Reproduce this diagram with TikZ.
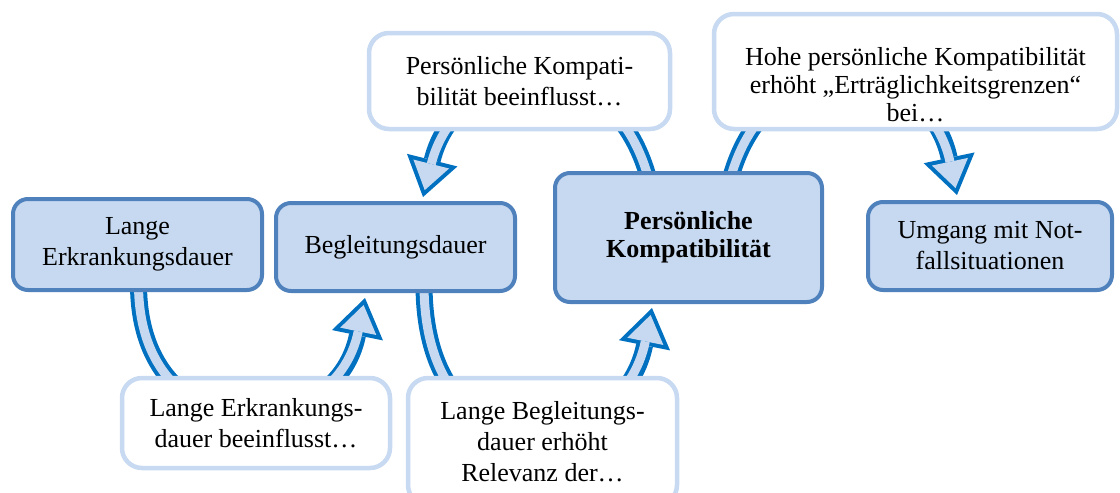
\documentclass[tikz,border=0pt]{standalone}
\usepackage{fontspec}
\setmainfont{Liberation Serif}
\usepackage{xcolor}
\usepackage{tikz}
\usetikzlibrary{arrows.meta, calc, backgrounds}

\definecolor{boxfill}{RGB}{198,217,240}
\definecolor{boxedge}{RGB}{79,129,189}
\definecolor{noteedge}{RGB}{200,218,241}
\definecolor{flowblue}{RGB}{0,112,192}

\begin{document}
\begin{tikzpicture}[
    x=0.5pt, y=-0.5pt,
    font=\fontsize{13pt}{15.5pt}\selectfont,
    box/.style={rectangle, rounded corners=7.5pt, draw=boxedge, line width=2pt, fill=boxfill, align=center, inner sep=0pt, outer sep=0pt},
    note/.style={rectangle, rounded corners=10pt, draw=noteedge, line width=2.25pt, fill=white, align=center, inner sep=0pt, outer sep=0pt},
    flowout/.style={flowblue, line width=8.5pt, -{Triangle[length=19pt, width=26pt, line width=0pt]}},
    flowin/.style={boxfill, line width=4.5pt, shorten >=3.55pt, -{Triangle[length=13.45pt, width=18.4pt, line width=0pt]}}
]
\useasboundingbox (0,0) rectangle (1120,493);

\node[box, minimum width=124.5pt, minimum height=45.5pt] (erkrankung) at (137.5,244.5) {Lange\\Erkrankungsdauer};
\node[box, minimum width=119.5pt, minimum height=44pt] (begleitung) at (395.5,247) {Begleitungsdauer};
\node[box, minimum width=133.5pt, minimum height=64.5pt, font=\bfseries\fontsize{13pt}{14pt}\selectfont] (kompat) at (688.5,237.5) {Persönliche\\Kompatibilität};
\node[box, minimum width=122pt, minimum height=44pt] (notfall) at (990,246) {Umgang mit Not-\\fallsituationen};

\node[note, minimum width=150.5pt, minimum height=48pt] (kompnote) at (519.5,81) {Persönliche Kompati-\\bilität beeinflusst…};
\node[note, minimum width=201.5pt, minimum height=57.5pt, font=\fontsize{13pt}{14pt}\selectfont] (grenznote) at (915.5,71.5) {\rule{0pt}{22.4pt}Hohe persönliche Kompatibilität\\erhöht „Erträglichkeitsgrenzen“\\bei…};
\node[note, minimum width=134pt, minimum height=45pt] (erknote) at (256,423) {Lange Erkrankungs-\\dauer beeinflusst…};
\node[note, minimum width=134.5pt, minimum height=63.5pt] (begnote) at (542.5,441.5) {Lange Begleitungs-\\dauer erhöht\\Relevanz der…};

\begin{scope}[on background layer]
\foreach \s in {flowout,flowin} {
  \draw[\s] ($(erkrankung.south)+(1,-6)$) .. controls +(0,170) and +(-30,148) .. ($(begleitung.south)+(-30.5,7)$);
  \draw[\s] ($(begleitung.south)+(28.5,-7)$) .. controls +(0,200) and +(-30,150) .. ($(kompat.south)+(-36.5,6)$);
  \draw[\s] ($(kompat.north)+(-39.5,7)$) .. controls +(-39,-145) and +(34,-136) .. ($(begleitung.north)+(27.5,-6)$);
  \draw[\s] ($(kompat.north)+(41.5,7)$) .. controls +(39,-145) and +(-29,-137) .. ($(notfall.north)+(-33,-7)$);
}
\end{scope}
\end{tikzpicture}
\end{document}
